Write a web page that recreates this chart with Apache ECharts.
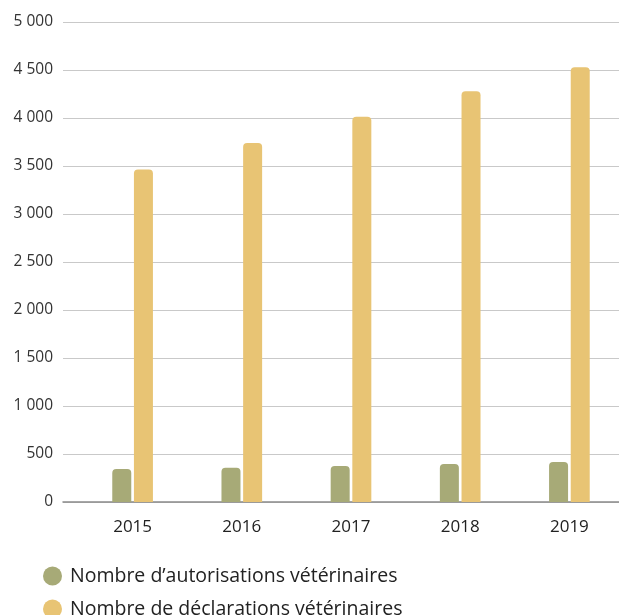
<!DOCTYPE html>
<html>
<head>
<meta charset="utf-8">
<script src="https://cdn.jsdelivr.net/npm/echarts@6/dist/echarts.min.js"></script>
<style>
  html, body { margin: 0; padding: 0; background: #fff; overflow: hidden; }
  #chart { width: 640px; height: 615px; }
</style>
</head>
<body>
<div id="chart"></div>
<script>
// Years on the horizontal axis
const years = ['2015', '2016', '2017', '2018', '2019'];
// Veterinary authorisations per year
const autorisations = [344, 357, 375, 396, 417];
// Veterinary declarations per year
const declarations = [3464, 3740, 4012, 4278, 4528];
// Vertical axis tick labels, from 0 up to 5 000
const yTicks = ['0', '500', '1 000', '1 500', '2 000', '2 500', '3 000', '3 500', '4 000', '4 500', '5 000'];

const seriesNames = ['Nombre d’autorisations vétérinaires', 'Nombre de déclarations vétérinaires'];
const colors = ['#a7aa77', '#e8c474'];
const fontFamily = '"Open Sans", "Noto Sans", sans-serif';

const chart = echarts.init(document.getElementById('chart'), null, { renderer: 'canvas' });

const yCommon = { type: 'value', min: 0, max: 5000, interval: 500 };

// one legend per series, stacked vertically
function legendFor(name, top) {
  return {
    left: 38,
    top: top,
    icon: 'circle',
    itemWidth: 19,
    itemHeight: 19,
    textStyle: { fontSize: 19.5, color: '#222', fontFamily: fontFamily, padding: [0, 0, 0, 3] },
    data: [name]
  };
}

chart.setOption({
  backgroundColor: '#ffffff',
  animation: false,
  textStyle: { fontFamily: fontFamily },
  legend: [legendFor(seriesNames[0], 561), legendFor(seriesNames[1], 594)],
  grid: [
    // frame with gridlines and y labels
    { left: 63, width: 560, top: 22, bottom: 113 },
    // plot area holding the bars
    { left: 78, width: 546, top: 22, bottom: 113 }
  ],
  xAxis: [
    {
      gridIndex: 0, type: 'value', min: 0, max: 1,
      axisLine: { show: true, lineStyle: { color: '#8a8a8a', width: 1.5 } },
      axisTick: { show: false }, axisLabel: { show: false }, splitLine: { show: false }
    },
    {
      gridIndex: 1, type: 'category', data: years,
      axisLine: { show: false }, axisTick: { show: false },
      axisLabel: { color: '#222', fontSize: 17, margin: 17, fontFamily: fontFamily }
    }
  ],
  yAxis: [
    Object.assign({}, yCommon, {
      gridIndex: 0,
      axisLine: { show: false }, axisTick: { show: false },
      axisLabel: {
        color: '#333', fontSize: 15.5, margin: 10, fontFamily: fontFamily,
        formatter: function (v) { return yTicks[Math.round(v / 500)]; }
      },
      splitLine: { show: true, lineStyle: { color: '#c9c9c9', width: 1 } }
    }),
    Object.assign({}, yCommon, {
      gridIndex: 1, show: false, splitLine: { show: false }
    })
  ],
  series: [
    {
      name: seriesNames[0], type: 'bar', xAxisIndex: 1, yAxisIndex: 1,
      data: autorisations, barWidth: 19, barGap: '14%',
      itemStyle: { color: colors[0], borderRadius: [4, 4, 0, 0] }
    },
    {
      name: seriesNames[1], type: 'bar', xAxisIndex: 1, yAxisIndex: 1,
      data: declarations, barWidth: 19, barGap: '14%',
      itemStyle: { color: colors[1], borderRadius: [4, 4, 0, 0] }
    }
  ]
});
</script>
</body>
</html>
